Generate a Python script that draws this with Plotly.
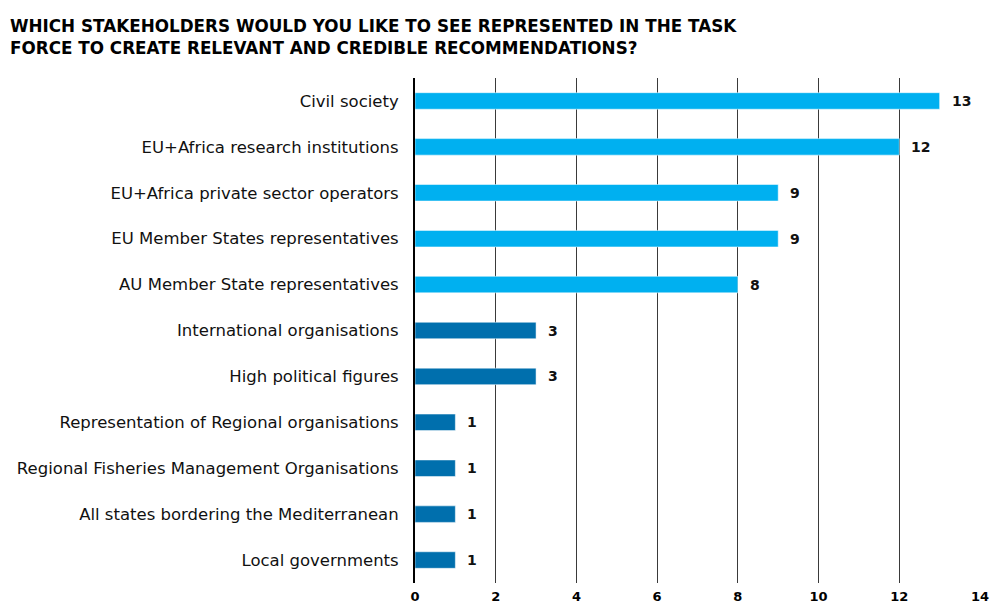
import plotly.graph_objects as go

# Survey responses: stakeholders respondents want represented in the task force
categories = [
    "Civil society",
    "EU+Africa research institutions",
    "EU+Africa private sector operators",
    "EU Member States representatives",
    "AU Member State representatives",
    "International organisations",
    "High political figures",
    "Representation of Regional organisations",
    "Regional Fisheries Management Organisations",
    "All states bordering the Mediterranean",
    "Local governments",
]
counts = [13, 12, 9, 9, 8, 3, 3, 1, 1, 1, 1]
highlight = [True, True, True, True, True, False, False, False, False, False, False]

x_ticks = [0, 2, 4, 6, 8, 10, 12, 14]

title_lines = [
    "WHICH STAKEHOLDERS WOULD YOU LIKE TO SEE REPRESENTED IN THE TASK",
    "FORCE TO CREATE RELEVANT AND CREDIBLE RECOMMENDATIONS?",
]

LIGHT = "#00B0F0"
DARK = "#006FAD"
FONT = "DejaVu Sans, Verdana, sans-serif"

colors = [LIGHT if h else DARK for h in highlight]

fig = go.Figure()
fig.add_trace(go.Bar(
    y=categories,
    x=counts,
    orientation="h",
    width=0.36,
    marker=dict(color=colors, line=dict(color="rgba(255,255,255,0.5)", width=1)),
    hoverinfo="x+y",
))

# Value labels just past each bar end
for cat, val in zip(categories, counts):
    fig.add_annotation(
        x=val, y=cat, text=f"<b>{val}</b>",
        xref="x", yref="y", xanchor="left", yanchor="middle",
        xshift=10, showarrow=False,
        font=dict(family=FONT, size=14, color="#111111"),
    )

# Two-line heading in the top-left corner
fig.add_annotation(
    text="<b>" + "<br>".join(title_lines) + "</b>",
    xref="paper", yref="paper",
    x=0, y=1, xanchor="left", yanchor="top",
    xshift=-407, yshift=64,
    align="left", showarrow=False,
    font=dict(family=FONT, size=16.8, color="#000000"),
)

fig.update_layout(
    width=991, height=605,
    margin=dict(l=415, r=11, t=78, b=22),
    paper_bgcolor="white",
    plot_bgcolor="white",
    showlegend=False,
    bargap=0.6,
    font=dict(family=FONT),
)

fig.update_xaxes(
    range=[0, 14],
    tickvals=x_ticks,
    ticktext=[f"<b>{t}</b>" for t in x_ticks],
    tickfont=dict(family=FONT, size=13, color="#000000"),
    showgrid=True, gridcolor="#3a3a3a", gridwidth=1,
    zeroline=False,
    showline=False,
    ticks="",
    ticklabelstandoff=4,
    automargin=False,
)
fig.update_yaxes(
    categoryorder="array",
    categoryarray=categories[::-1],
    tickfont=dict(family=FONT, size=16.5, color="#111111"),
    showline=True, linecolor="#000000", linewidth=2,
    showgrid=False,
    ticks="",
    ticklabelstandoff=11,
    automargin=False,
)

fig.write_html("out.html")
